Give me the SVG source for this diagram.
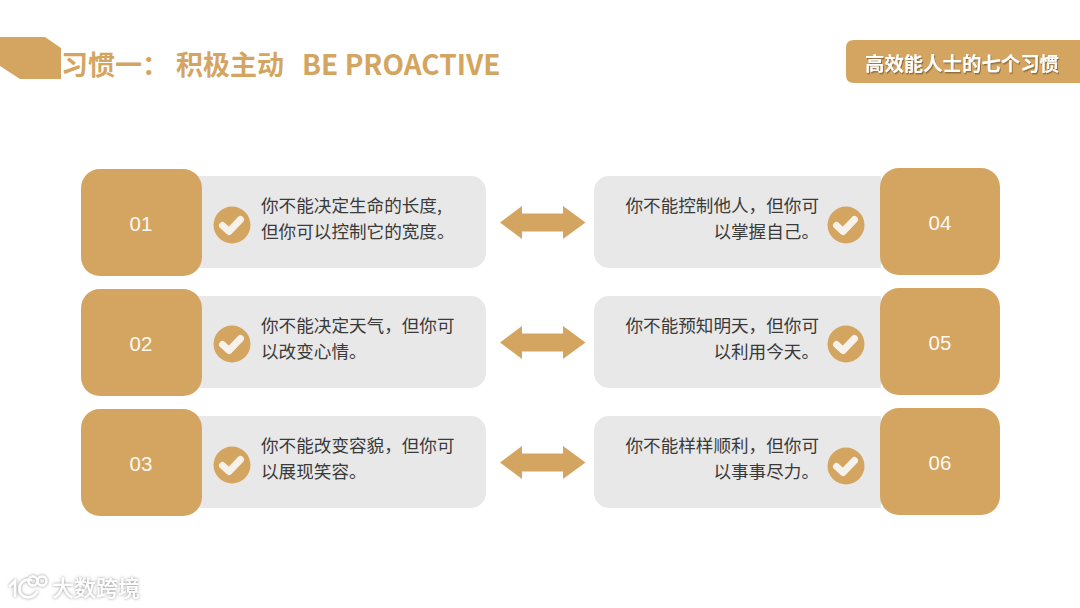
<svg xmlns="http://www.w3.org/2000/svg" width="1080" height="608" viewBox="0 0 1080 608">
<style>
.gold{fill:#d4a561}
.gray{fill:#e8e8e8}
.num{font:20.500px "Liberation Sans",Arial,sans-serif;fill:#fdf8ef;text-anchor:middle}
.t{font:17.6px "Noto Sans CJK SC","Noto Sans",sans-serif;fill:#3a3a3a}
.r{text-anchor:end}
.title{font:700 27px "Noto Sans CJK SC","Noto Sans",sans-serif;fill:#d4a561}
.latin{font-size:28px}
.badge{font:700 19.4px "Noto Sans CJK SC","Noto Sans",sans-serif;fill:#fff;text-anchor:middle;filter:url(#sh)}
.wm{font:500 22px "Noto Sans CJK SC","Noto Sans",sans-serif;fill:#fff;filter:url(#glow)}
</style>
<defs>
<filter id="sh" x="-10%" y="-20%" width="120%" height="150%"><feDropShadow dx="1" dy="1.5" stdDeviation="0.7" flood-color="#7a5a2a" flood-opacity="0.7"/></filter>
<filter id="glow" x="-10%" y="-30%" width="120%" height="160%"><feDropShadow dx="0" dy="0" stdDeviation="1.5" flood-color="#777" flood-opacity="0.85"/></filter>
<g id="check"><circle r="18.5" class="gold"/><path d="M-9.500 0.500 L-3 6.500 L8.500 -5.500" fill="none" stroke="#f6f1ea" stroke-width="7" stroke-linecap="round" stroke-linejoin="round"/></g>
<path id="arrow" d="M500 0 L522 -16.500 V-9 H563 V-16.500 L585.500 0 L563 16.500 V9 H522 V16.500 Z" class="gold"/>
</defs>

<g id="header">
<polygon class="gold" points="0,37 45,37 61,48 61,79 20,79 0,66"/>
<text class="title" x="61" y="75">习惯一&#xFF1A;</text>
<text class="title" x="176" y="75">积极主动</text>
<text class="title latin" x="302" y="75">BE PROACTIVE</text>
</g>
<g id="badge">
<path class="gold" d="M1080 40 H854 Q846 40 846 48 V75 Q846 83 854 83 H1080 Z"/>
<text class="badge" x="962" y="71">高效能人士的七个习惯</text>
</g>

<g id="connectors">
<use href="#arrow" y="222.500"/>
<use href="#arrow" y="342.500"/>
<use href="#arrow" y="462.500"/>
</g>

<g id="node-01">
<rect class="gray" x="180" y="176" width="306" height="92" rx="15"/>
<rect class="gold" x="81" y="169" width="121" height="107" rx="19"/>
<text class="num" x="141" y="231">01</text>
<use href="#check" x="232" y="225"/>
<text class="t" x="261" y="212">你不能决定生命的长度,</text>
<text class="t" x="261" y="238">但你可以控制它的宽度。</text>
</g>
<g id="node-02">
<rect class="gray" x="180" y="296" width="306" height="92" rx="15"/>
<rect class="gold" x="81" y="289" width="121" height="107" rx="19"/>
<text class="num" x="141" y="351">02</text>
<use href="#check" x="232" y="344"/>
<text class="t" x="261" y="332">你不能决定天气&#xFF0C;但你可</text>
<text class="t" x="261" y="358">以改变心情。</text>
</g>
<g id="node-03">
<rect class="gray" x="180" y="416" width="306" height="92" rx="15"/>
<rect class="gold" x="81" y="409" width="121" height="107" rx="19"/>
<text class="num" x="141" y="471">03</text>
<use href="#check" x="232" y="465"/>
<text class="t" x="261" y="452">你不能改变容貌&#xFF0C;但你可</text>
<text class="t" x="261" y="478">以展现笑容。</text>
</g>
<g id="node-04">
<path class="gray" d="M881 176 H609 A15 15 0 0 0 594 191 V253 A15 15 0 0 0 609 268 H881 Z"/>
<rect class="gold" x="880" y="168" width="120" height="107" rx="19"/>
<text class="num" x="940" y="230">04</text>
<use href="#check" x="846" y="225"/>
<text class="t r" x="819" y="212">你不能控制他人&#xFF0C;但你可</text>
<text class="t r" x="819" y="238">以掌握自己。</text>
</g>
<g id="node-05">
<path class="gray" d="M881 296 H609 A15 15 0 0 0 594 311 V373 A15 15 0 0 0 609 388 H881 Z"/>
<rect class="gold" x="880" y="288" width="120" height="107" rx="19"/>
<text class="num" x="940" y="350">05</text>
<use href="#check" x="846" y="344"/>
<text class="t r" x="819" y="332">你不能预知明天&#xFF0C;但你可</text>
<text class="t r" x="819" y="358">以利用今天。</text>
</g>
<g id="node-06">
<path class="gray" d="M881 416 H609 A15 15 0 0 0 594 431 V493 A15 15 0 0 0 609 508 H881 Z"/>
<rect class="gold" x="880" y="408" width="120" height="107" rx="19"/>
<text class="num" x="940" y="470">06</text>
<use href="#check" x="846" y="466"/>
<text class="t r" x="819" y="452">你不能样样顺利&#xFF0C;但你可</text>
<text class="t r" x="819" y="478">以事事尽力。</text>
</g>

<g id="watermark">
<g fill="none" stroke="#fff" stroke-width="2.500" stroke-linecap="round" filter="url(#glow)">
<path d="M10 586 L15 581 V596"/>
<path d="M31 580 C22 578 18 586 20 592 C22 598 32 600 37 592"/>
<circle cx="33" cy="581" r="4.500"/>
<circle cx="42" cy="581" r="4.500"/>
</g>
<text class="wm" x="52" y="596">大数跨境</text>
</g>
</svg>
